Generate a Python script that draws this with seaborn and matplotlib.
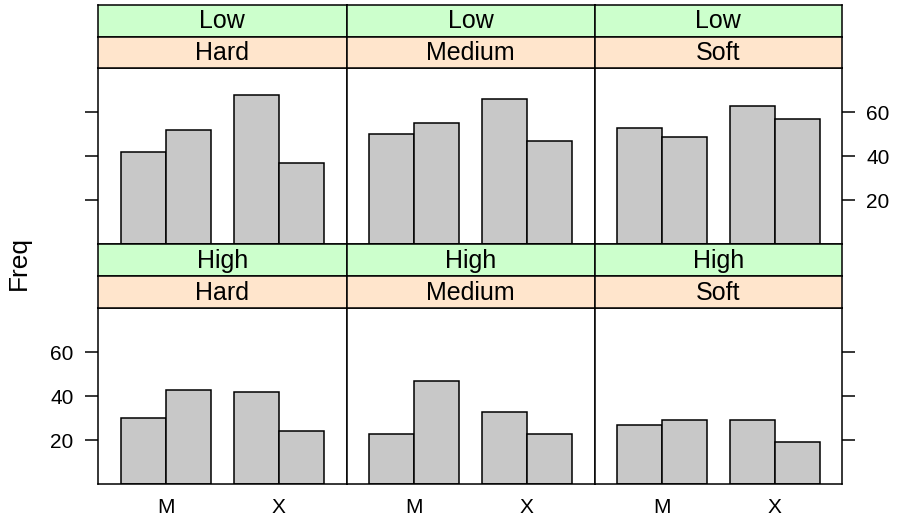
import matplotlib
matplotlib.use("Agg")
import matplotlib.pyplot as plt
import seaborn as sns
import pandas as pd

# ---- data ----
temperatures = ["Low", "High"]
water = ["Hard", "Medium", "Soft"]
brands = ["M", "X"]
user = ["Yes", "No"]
# per panel: [M-Yes, M-No, X-Yes, X-No]
low_hard = [42, 52, 68, 37]
low_medium = [50, 55, 66, 47]
low_soft = [53, 49, 63, 57]
high_hard = [30, 43, 42, 24]
high_medium = [23, 47, 33, 23]
high_soft = [27, 29, 29, 19]
y_ticks = [20, 40, 60]

panel_values = {
    ("Low", "Hard"): low_hard, ("Low", "Medium"): low_medium, ("Low", "Soft"): low_soft,
    ("High", "Hard"): high_hard, ("High", "Medium"): high_medium, ("High", "Soft"): high_soft,
}
rows = []
for (t, w), vals in panel_values.items():
    i = 0
    for b in brands:
        for u in user:
            rows.append(dict(Temp=t, Water=w, Brand=b, User=u, Freq=vals[i]))
            i += 1
df = pd.DataFrame(rows)

sns.set_theme(style="white")
plt.rcParams["font.family"] = ["Liberation Sans", "DejaVu Sans"]

W, H = 898, 518
fig = plt.figure(figsize=(W / 100, H / 100), dpi=100)

def px_axes(x0, y0, x1, y1):
    return fig.add_axes([x0 / W, 1 - y1 / H, (x1 - x0) / W, (y1 - y0) / H])

col_edges = [98, 346.5, 594.5, 842]
row_geom = {  # temp: (green_top, orange_top, panel_top, panel_bottom)
    "Low": (5, 36.7, 68.3, 244.3),
    "High": (244.3, 276, 308, 484.3),
}
green = "#CCFFCC"
orange = "#FFE5CC"
gray = "#C8C8C8"

for t in temperatures:
    g0, o0, p0, p1 = row_geom[t]
    for ci, w in enumerate(water):
        x0, x1 = col_edges[ci], col_edges[ci + 1]
        ax = px_axes(x0, p0, x1, p1)
        sub = df[(df.Temp == t) & (df.Water == w)]
        sns.barplot(data=sub, x="Brand", y="Freq", hue="User", hue_order=user,
                    order=brands, palette=[gray, gray], saturation=1,
                    edgecolor="black", linewidth=1.1, width=0.8, legend=False, ax=ax)
        ax.set_xlim(-0.6, 1.6)
        ax.set_ylim(0, 80)
        ax.set_xlabel("")
        ax.set_ylabel("")
        for s in ax.spines.values():
            s.set_color("black")
            s.set_linewidth(1.1)
        ax.set_yticks(y_ticks)
        ax.tick_params(axis="both", direction="out", length=9.5, width=1.1,
                       color="black", labelsize=15, labelcolor="black", pad=8)
        left = (ci == 0)
        right = (ci == 2)
        ax.tick_params(axis="y", left=left, right=right,
                       labelleft=(left and t == "High"),
                       labelright=(right and t == "Low"))
        if t == "High":
            ax.tick_params(axis="x", bottom=True, length=0, pad=10, labelbottom=True)
        else:
            ax.tick_params(axis="x", bottom=False, labelbottom=False)
        # strips
        for (sy0, sy1, col, label) in [(g0, o0, green, t), (o0, p0, orange, w)]:
            sax = px_axes(x0, sy0, x1, sy1)
            sax.set_facecolor(col)
            sax.set_xticks([])
            sax.set_yticks([])
            for s in sax.spines.values():
                s.set_color("black")
                s.set_linewidth(1.1)
            sax.text(0.5, 0.48, label, ha="center", va="center", fontsize=18,
                     color="black", transform=sax.transAxes)

fig.text(19 / W, 1 - 263 / H, "Freq", rotation=90, ha="center", va="center",
         fontsize=19, color="black")

fig.savefig("out.png", dpi=100)
